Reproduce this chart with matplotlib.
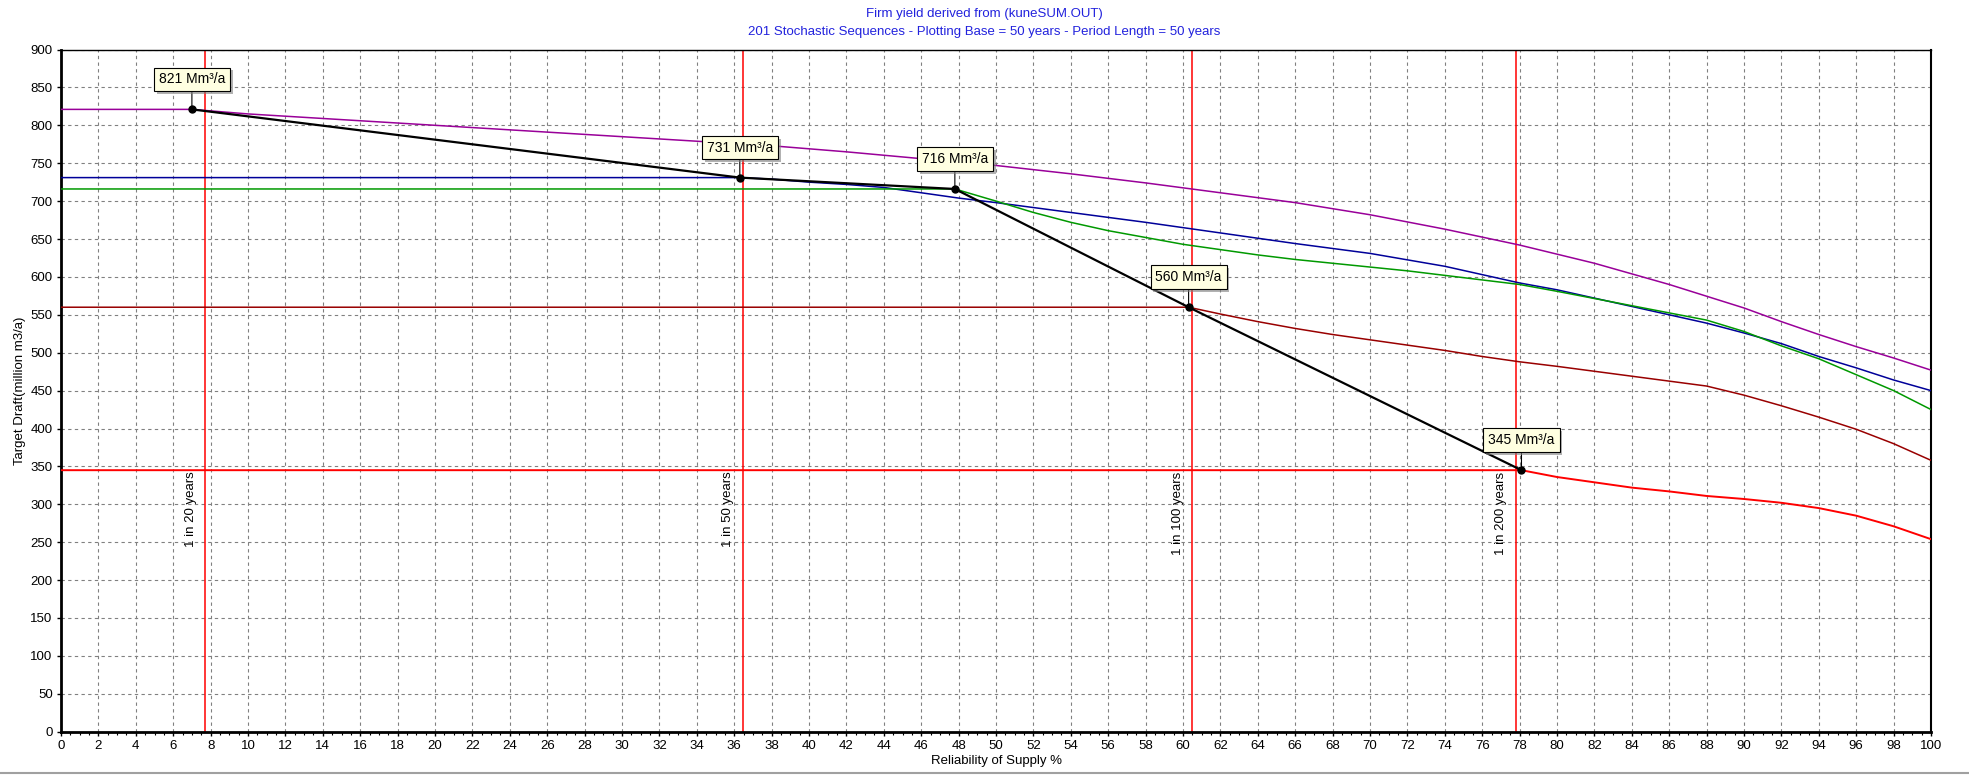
import matplotlib.pyplot as plt
import matplotlib.patheffects as pe
from matplotlib.lines import Line2D

plt.rcParams['font.family'] = ['Liberation Sans', 'DejaVu Sans']
plt.rcParams['font.size'] = 9.5

# yield curves (reliability %, target draft)
purple_x = [0, 7, 10, 14, 18, 22, 26, 30, 34, 38, 42, 46, 50, 54, 58, 62, 66, 70, 74, 78, 82, 86, 90, 92, 94, 96, 98, 100]
purple_y = [821, 821, 815, 809, 803, 797, 791, 785, 779, 773, 765, 756, 747, 736, 724, 711, 698, 682, 663, 642, 618, 590, 559, 541, 524, 508, 493, 477]

blue_x = [0, 36.3, 38, 40, 42, 44, 46, 48, 50, 54, 58, 62, 66, 70, 74, 78, 80, 84, 88, 90, 92, 94, 96, 98, 100]
blue_y = [731, 731, 729, 725, 722, 718, 711, 704, 698, 685, 672, 658, 644, 631, 614, 592, 583, 561, 539, 526, 512, 495, 480, 464, 450]

green_x = [0, 47.8, 50, 52, 54, 56, 58, 60, 62, 64, 66, 68, 70, 72, 74, 76, 78, 80, 84, 88, 90, 92, 94, 96, 98, 100]
green_y = [716, 716, 700, 685, 672, 661, 652, 643, 636, 629, 623, 618, 613, 608, 602, 596, 590, 581, 562, 543, 528, 509, 492, 471, 450, 425]

dred_x = [0, 60.3, 62, 64, 66, 68, 70, 72, 74, 76, 78, 80, 84, 88, 90, 92, 94, 96, 98, 100]
dred_y = [560, 560, 551, 541, 532, 524, 517, 510, 503, 495, 488, 482, 469, 456, 444, 430, 415, 399, 380, 358]

red_x = [0, 78.1, 80, 82, 84, 86, 88, 90, 92, 94, 96, 98, 100]
red_y = [345, 345, 336, 329, 322, 317, 311, 307, 302, 295, 285, 271, 254]

# firm yield points
fy_x = [7.0, 36.3, 47.8, 60.3, 78.1]
fy_y = [821, 731, 716, 560, 345]
fy_labels = ['821 Mm³/a', '731 Mm³/a', '716 Mm³/a', '560 Mm³/a', '345 Mm³/a']

# return period markers
rp_x = [7.7, 36.45, 60.5, 77.8]
rp_labels = ['1 in 20 years', '1 in 50 years', '1 in 100 years', '1 in 200 years']

fig = plt.figure(figsize=(19.69, 7.75), dpi=100)
ax = fig.add_axes([61/1969, 1-731.7/775, (1931-61)/1969, (731.7-49.5)/775])

ax.set_xlim(0, 100)
ax.set_ylim(0, 900)
ax.set_xticks(range(0, 101, 2))
ax.set_xticks([i*0.5 for i in range(201)], minor=True)
ax.set_yticks(range(0, 901, 50))
ax.tick_params(which='major', length=3, width=1, pad=3, labelsize=9.5)
ax.tick_params(which='minor', length=2, width=0.8)
ax.tick_params(axis='y', which='minor', left=False)
ax.grid(True, which='major', color='#808080', lw=0.8, ls=(0, (3, 3)))
ax.set_axisbelow(True)

for s in ['left', 'bottom']:
    ax.spines[s].set_linewidth(2)
ax.spines['right'].set_linewidth(1.5)
ax.spines['top'].set_linewidth(1)

for xv, lab in zip(rp_x, rp_labels):
    ax.axvline(xv, color='#ff0000', lw=1.1, zorder=2)
    ax.text(xv - 0.45, 343, lab, rotation=90, ha='right', va='top', fontsize=9.5)

ax.plot(purple_x, purple_y, color='#990099', lw=1.1, zorder=3)
ax.plot(blue_x, blue_y, color='#000099', lw=1.1, zorder=3)
ax.plot(green_x, green_y, color='#009900', lw=1.1, zorder=3)
ax.plot(dred_x, dred_y, color='#990000', lw=1.1, zorder=3)
ax.plot(red_x, red_y, color='#ff0000', lw=1.4, zorder=3)

ax.plot(fy_x, fy_y, color='black', lw=1.6, marker='o', ms=5, zorder=4)

for xv, yv, lab in zip(fy_x, fy_y, fy_labels):
    ann = ax.annotate(lab, xy=(xv, yv), xytext=(0, 30), textcoords='offset pixels',
                      ha='center', va='center', fontsize=10, zorder=5,
                      bbox=dict(boxstyle='square,pad=0.35', fc='#ffffe1', ec='black', lw=0.8),
                      arrowprops=dict(arrowstyle='-', color='black', lw=0.8, shrinkA=0, shrinkB=0))
    ann.get_bbox_patch().set_path_effects([pe.SimplePatchShadow(offset=(2, -2), shadow_rgbFace='#808080', alpha=0.6), pe.Normal()])

ax.set_xlabel('Reliability of Supply %', labelpad=2)
ax.set_ylabel('Target Draft(million m3/a)', labelpad=3)

fig.text(0.5, 1-14/775, 'Firm yield derived from (kuneSUM.OUT)', ha='center', va='center', color='#2222dd', fontsize=9.5)
fig.text(0.5, 1-32/775, '201 Stochastic Sequences - Plotting Base = 50 years - Period Length = 50 years',
         ha='center', va='center', color='#2222dd', fontsize=9.5)

fig.add_artist(Line2D([0, 1], [1-773/775, 1-773/775], transform=fig.transFigure, color='#a0a0a0', lw=1.5))

plt.savefig('out.png', dpi=100)
